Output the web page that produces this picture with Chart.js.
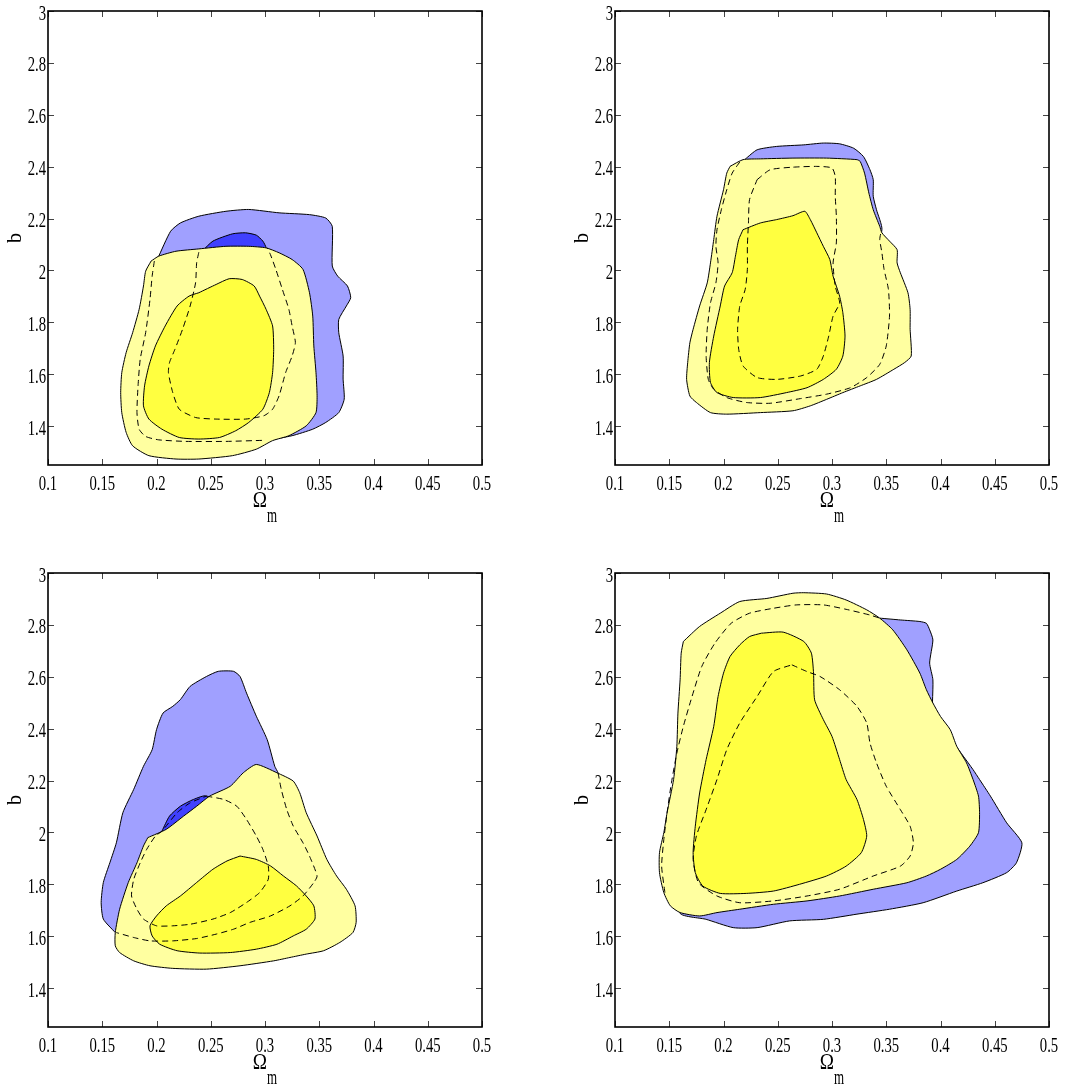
<!DOCTYPE html>
<html lang="en">
<head>
<meta charset="UTF-8">
<title>b vs Omega_m</title>
<script src="https://cdn.jsdelivr.net/npm/chart.js"></script>
<style>
  html, body { margin: 0; padding: 0; background: #fff; overflow: hidden; }
  body { width: 1068px; height: 1086px; position: relative; }
  canvas { position: absolute; }
</style>
</head>
<body>
<canvas id="tl" width="534" height="540" style="left:0px;top:0px"></canvas>
<canvas id="tr" width="534" height="540" style="left:567px;top:0px"></canvas>
<canvas id="bl" width="534" height="540" style="left:0px;top:562px"></canvas>
<canvas id="br" width="534" height="540" style="left:567px;top:562px"></canvas>
<script>
// axes
const xTicks = [0.1, 0.15, 0.2, 0.25, 0.3, 0.35, 0.4, 0.45, 0.5];
const xTickLabels = ['0.1', '0.15', '0.2', '0.25', '0.3', '0.35', '0.4', '0.45', '0.5'];
const yTicks = [1.4, 1.6, 1.8, 2, 2.2, 2.4, 2.6, 2.8, 3];
const yTickLabels = ['1.4', '1.6', '1.8', '2', '2.2', '2.4', '2.6', '2.8', '3'];

// top left panel: contours as [Omega_m, b]
const tlBlueOuter = [[0.201,2.045],[0.213,2.151],[0.222,2.183],[0.239,2.209],[0.264,2.228],[0.285,2.235],[0.313,2.222],[0.341,2.215],[0.356,2.202],[0.362,2.170],[0.362,2.017],[0.367,1.978],[0.376,1.940],[0.379,1.895],[0.375,1.863],[0.368,1.811],[0.368,1.760],[0.372,1.670],[0.372,1.581],[0.373,1.504],[0.368,1.452],[0.356,1.414],[0.344,1.388],[0.325,1.363],[0.301,1.344],[0.295,1.341],[0.239,1.388],[0.196,1.504],[0.193,1.952]];
const tlBlueInner = [[0.242,2.074],[0.252,2.113],[0.270,2.141],[0.282,2.145],[0.292,2.136],[0.298,2.113],[0.301,2.087],[0.304,1.888],[0.276,1.696],[0.239,1.696],[0.233,1.952]];
const tlYellowOuter = [[0.195,2.036],[0.190,1.997],[0.188,1.940],[0.184,1.850],[0.178,1.760],[0.172,1.683],[0.168,1.606],[0.167,1.529],[0.168,1.452],[0.172,1.376],[0.178,1.324],[0.193,1.286],[0.218,1.273],[0.239,1.273],[0.270,1.286],[0.292,1.311],[0.307,1.344],[0.322,1.363],[0.338,1.401],[0.347,1.452],[0.348,1.517],[0.347,1.606],[0.345,1.709],[0.344,1.824],[0.341,1.914],[0.335,2.004],[0.325,2.042],[0.313,2.068],[0.301,2.087],[0.285,2.093],[0.264,2.093],[0.239,2.083],[0.218,2.074],[0.202,2.055]];
const tlYellowInner = [[0.239,1.914],[0.230,1.901],[0.219,1.863],[0.208,1.786],[0.199,1.709],[0.193,1.632],[0.189,1.555],[0.188,1.478],[0.193,1.427],[0.205,1.388],[0.221,1.356],[0.239,1.350],[0.258,1.356],[0.273,1.382],[0.285,1.414],[0.298,1.465],[0.304,1.529],[0.307,1.606],[0.308,1.696],[0.307,1.786],[0.301,1.850],[0.295,1.901],[0.290,1.940],[0.279,1.965],[0.267,1.968],[0.255,1.946]];
const tlDash68 = [[0.239,2.070],[0.237,2.029],[0.236,1.952],[0.231,1.863],[0.224,1.773],[0.217,1.696],[0.212,1.645],[0.211,1.606],[0.215,1.529],[0.221,1.465],[0.236,1.433],[0.255,1.427],[0.282,1.427],[0.299,1.440],[0.307,1.465],[0.313,1.517],[0.319,1.606],[0.325,1.670],[0.328,1.722],[0.325,1.786],[0.322,1.850],[0.316,1.927],[0.310,2.004],[0.305,2.061],[0.302,2.087]];
const tlDash95 = [[0.198,2.036],[0.196,1.978],[0.194,1.888],[0.190,1.760],[0.185,1.658],[0.183,1.555],[0.182,1.452],[0.184,1.388],[0.190,1.360],[0.202,1.347],[0.227,1.341],[0.264,1.341],[0.298,1.345]];

// top right panel
const trBlueOuter = [[0.220,2.429],[0.231,2.465],[0.249,2.478],[0.274,2.484],[0.292,2.491],[0.307,2.488],[0.320,2.471],[0.329,2.439],[0.335,2.388],[0.338,2.350],[0.338,2.286],[0.341,2.234],[0.346,2.157],[0.326,1.773],[0.234,1.645],[0.203,2.029]];
const trYellowOuter = [[0.206,2.401],[0.218,2.427],[0.234,2.430],[0.264,2.433],[0.295,2.433],[0.323,2.427],[0.326,2.420],[0.330,2.375],[0.334,2.298],[0.338,2.234],[0.344,2.170],[0.346,2.145],[0.353,2.113],[0.360,2.080],[0.360,2.029],[0.363,1.991],[0.370,1.914],[0.372,1.850],[0.372,1.773],[0.373,1.670],[0.367,1.645],[0.357,1.619],[0.341,1.580],[0.326,1.555],[0.310,1.529],[0.295,1.503],[0.280,1.478],[0.264,1.459],[0.234,1.452],[0.203,1.446],[0.188,1.452],[0.175,1.491],[0.169,1.516],[0.166,1.580],[0.167,1.645],[0.169,1.721],[0.172,1.773],[0.178,1.863],[0.185,1.952],[0.188,2.029],[0.191,2.119],[0.194,2.209],[0.200,2.311],[0.203,2.375]];
const trYellowInner = [[0.218,2.157],[0.234,2.183],[0.249,2.196],[0.264,2.211],[0.275,2.228],[0.280,2.196],[0.286,2.145],[0.292,2.093],[0.298,2.042],[0.301,1.978],[0.307,1.901],[0.310,1.837],[0.312,1.747],[0.310,1.670],[0.304,1.619],[0.292,1.580],[0.277,1.548],[0.258,1.529],[0.234,1.510],[0.209,1.510],[0.194,1.529],[0.188,1.568],[0.187,1.645],[0.191,1.747],[0.197,1.863],[0.201,1.940],[0.208,1.991],[0.211,2.055],[0.214,2.119]];
const trDash68 = [[0.231,2.350],[0.243,2.388],[0.264,2.398],[0.286,2.401],[0.300,2.395],[0.303,2.362],[0.303,2.286],[0.304,2.209],[0.304,2.106],[0.301,2.029],[0.303,1.939],[0.307,1.875],[0.301,1.824],[0.297,1.747],[0.292,1.670],[0.286,1.619],[0.271,1.593],[0.249,1.580],[0.231,1.587],[0.218,1.632],[0.214,1.696],[0.213,1.773],[0.215,1.863],[0.220,1.927],[0.222,2.004],[0.222,2.093],[0.223,2.183],[0.224,2.273]];
const trDash95 = [[0.215,2.418],[0.208,2.375],[0.203,2.311],[0.198,2.234],[0.194,2.157],[0.193,2.093],[0.195,2.029],[0.193,1.952],[0.188,1.875],[0.185,1.773],[0.184,1.670],[0.186,1.580],[0.191,1.542],[0.203,1.510],[0.221,1.491],[0.243,1.488],[0.271,1.506],[0.295,1.523],[0.317,1.548],[0.332,1.587],[0.344,1.638],[0.350,1.709],[0.353,1.824],[0.352,1.927],[0.348,2.004],[0.346,2.068],[0.344,2.119],[0.345,2.145]];

// bottom left panel
const blBlueOuter = [[0.162,1.614],[0.151,1.666],[0.149,1.730],[0.151,1.807],[0.157,1.883],[0.163,1.960],[0.169,2.076],[0.179,2.166],[0.188,2.255],[0.196,2.319],[0.200,2.396],[0.206,2.460],[0.215,2.486],[0.222,2.512],[0.231,2.563],[0.246,2.601],[0.257,2.621],[0.271,2.621],[0.277,2.601],[0.283,2.537],[0.292,2.448],[0.302,2.358],[0.309,2.255],[0.312,2.230],[0.323,2.063],[0.262,1.807],[0.185,1.678]];
const blBlueInner = [[0.205,2.005],[0.212,2.063],[0.222,2.101],[0.234,2.127],[0.246,2.140],[0.262,2.037],[0.237,1.871],[0.209,1.935]];
const blYellowOuter = [[0.192,1.980],[0.209,2.012],[0.225,2.063],[0.237,2.101],[0.249,2.140],[0.268,2.178],[0.280,2.230],[0.292,2.262],[0.311,2.230],[0.326,2.198],[0.332,2.153],[0.338,2.076],[0.348,1.986],[0.357,1.896],[0.366,1.832],[0.375,1.781],[0.383,1.717],[0.384,1.653],[0.381,1.614],[0.369,1.576],[0.354,1.544],[0.338,1.531],[0.323,1.518],[0.308,1.505],[0.277,1.486],[0.246,1.473],[0.215,1.476],[0.194,1.486],[0.179,1.505],[0.166,1.537],[0.162,1.563],[0.162,1.614],[0.166,1.704],[0.174,1.807],[0.182,1.883],[0.188,1.948]];
const blYellowInner = [[0.277,1.909],[0.292,1.896],[0.305,1.871],[0.317,1.832],[0.329,1.794],[0.338,1.755],[0.345,1.717],[0.346,1.666],[0.338,1.627],[0.326,1.601],[0.311,1.569],[0.292,1.550],[0.268,1.537],[0.240,1.535],[0.219,1.544],[0.203,1.569],[0.196,1.601],[0.194,1.640],[0.200,1.678],[0.209,1.717],[0.222,1.755],[0.237,1.807],[0.252,1.858],[0.265,1.890]];
const blDash68 = [[0.246,2.140],[0.262,2.127],[0.274,2.101],[0.283,2.050],[0.292,1.986],[0.298,1.935],[0.303,1.871],[0.303,1.819],[0.295,1.768],[0.283,1.730],[0.268,1.691],[0.252,1.666],[0.231,1.646],[0.215,1.640],[0.200,1.640],[0.188,1.666],[0.182,1.704],[0.177,1.755],[0.179,1.819],[0.185,1.883],[0.191,1.935],[0.199,1.986],[0.205,2.005],[0.219,2.076],[0.231,2.114]];
const blDash95 = [[0.312,2.230],[0.315,2.166],[0.320,2.089],[0.326,2.025],[0.335,1.960],[0.341,1.909],[0.348,1.832],[0.345,1.807],[0.335,1.755],[0.323,1.717],[0.305,1.678],[0.286,1.653],[0.271,1.627],[0.255,1.608],[0.237,1.591],[0.215,1.582],[0.194,1.582],[0.179,1.595],[0.163,1.614]];

// bottom right panel
const brBlueOuter = [[0.344,2.826],[0.363,2.819],[0.381,2.813],[0.387,2.806],[0.390,2.781],[0.393,2.742],[0.390,2.653],[0.393,2.588],[0.393,2.409],[0.403,2.383],[0.412,2.345],[0.421,2.294],[0.430,2.242],[0.436,2.204],[0.446,2.140],[0.461,2.037],[0.475,1.960],[0.470,1.883],[0.461,1.845],[0.439,1.806],[0.415,1.774],[0.384,1.729],[0.353,1.704],[0.323,1.685],[0.292,1.665],[0.261,1.659],[0.231,1.633],[0.209,1.633],[0.184,1.665],[0.160,1.691],[0.215,2.076],[0.307,2.460]];
const brYellowOuter = [[0.163,2.736],[0.178,2.794],[0.197,2.845],[0.215,2.890],[0.240,2.902],[0.264,2.922],[0.274,2.924],[0.295,2.919],[0.313,2.896],[0.332,2.858],[0.344,2.826],[0.356,2.781],[0.369,2.704],[0.381,2.614],[0.387,2.550],[0.393,2.499],[0.400,2.447],[0.409,2.396],[0.415,2.332],[0.424,2.268],[0.430,2.204],[0.435,2.140],[0.436,2.076],[0.435,1.999],[0.427,1.947],[0.415,1.896],[0.400,1.858],[0.387,1.832],[0.369,1.806],[0.338,1.781],[0.307,1.755],[0.277,1.736],[0.246,1.723],[0.215,1.704],[0.194,1.691],[0.178,1.678],[0.160,1.691],[0.151,1.717],[0.145,1.768],[0.141,1.845],[0.141,1.922],[0.145,1.999],[0.148,2.076],[0.154,2.204],[0.157,2.332],[0.158,2.460],[0.160,2.588],[0.161,2.691]];
const brYellowInner = [[0.235,2.768],[0.255,2.772],[0.274,2.736],[0.281,2.691],[0.283,2.614],[0.284,2.511],[0.292,2.435],[0.300,2.370],[0.307,2.281],[0.313,2.204],[0.323,2.127],[0.329,2.050],[0.332,1.986],[0.327,1.922],[0.313,1.870],[0.295,1.832],[0.270,1.800],[0.246,1.774],[0.221,1.765],[0.197,1.765],[0.181,1.793],[0.174,1.845],[0.172,1.922],[0.174,2.024],[0.178,2.152],[0.184,2.281],[0.191,2.409],[0.195,2.524],[0.200,2.614],[0.206,2.678],[0.215,2.723],[0.224,2.755]];
const brDash68 = [[0.263,2.646],[0.277,2.620],[0.289,2.601],[0.307,2.550],[0.323,2.486],[0.332,2.422],[0.335,2.345],[0.341,2.268],[0.350,2.178],[0.363,2.088],[0.372,2.024],[0.375,1.960],[0.372,1.909],[0.363,1.870],[0.338,1.832],[0.307,1.781],[0.277,1.755],[0.246,1.736],[0.215,1.729],[0.194,1.755],[0.177,1.806],[0.172,1.896],[0.175,1.986],[0.184,2.088],[0.194,2.204],[0.203,2.319],[0.215,2.422],[0.231,2.524],[0.246,2.620]];
const brDash95 = [[0.146,1.768],[0.143,1.870],[0.145,1.973],[0.148,2.076],[0.152,2.191],[0.157,2.306],[0.163,2.409],[0.171,2.524],[0.180,2.640],[0.192,2.729],[0.207,2.806],[0.224,2.845],[0.246,2.864],[0.267,2.877],[0.292,2.877],[0.313,2.860],[0.335,2.838],[0.344,2.826]];

const lightBlue = '#a0a0ff';
const darkBlue = '#4040ff';
const lightYellow = '#ffffa0';
const yellow = '#ffff40';

function toXY(pts) {
    return pts.map(p => ({ x: p[0], y: p[1] }));
}

// filled closed contour
function region(pts, color, order) {
    return {
        data: toXY(pts.concat([pts[0]])),
        showLine: true,
        fill: 'shape',
        backgroundColor: color,
        borderColor: '#000',
        borderWidth: 1,
        pointRadius: 0,
        tension: 0.2,
        order: order
    };
}

// dashed contour line, no fill
function dashed(pts, closed, order) {
    return {
        data: toXY(closed ? pts.concat([pts[0]]) : pts),
        showLine: true,
        fill: false,
        borderColor: '#000',
        borderWidth: 1,
        borderDash: [6, 4],
        pointRadius: 0,
        tension: 0.2,
        order: order
    };
}

// matlab style box, inward ticks and labels
const frame = {
    id: 'frame',
    afterDraw(chart) {
        const ctx = chart.ctx;
        const { left, top, right, bottom } = chart.chartArea;
        const sx = chart.scales.x, sy = chart.scales.y;
        ctx.save();
        ctx.strokeStyle = '#444';
        ctx.lineWidth = 1;
        ctx.beginPath();
        xTicks.forEach(v => {
            const px = Math.round(sx.getPixelForValue(v)) + 0.5;
            ctx.moveTo(px, bottom); ctx.lineTo(px, bottom - 6);
            ctx.moveTo(px, top); ctx.lineTo(px, top + 6);
        });
        yTicks.forEach(v => {
            const py = Math.round(sy.getPixelForValue(v)) + 0.5;
            ctx.moveTo(left, py); ctx.lineTo(left + 6, py);
            ctx.moveTo(right, py); ctx.lineTo(right - 6, py);
        });
        ctx.stroke();
        ctx.strokeStyle = '#000';
        ctx.lineWidth = 1.6;
        ctx.strokeRect(left, top, right - left, bottom - top);

        ctx.fillStyle = '#000';
        ctx.font = '21px "Liberation Serif"';
        ctx.textBaseline = 'alphabetic';
        ctx.textAlign = 'center';
        xTicks.forEach((v, i) => {
            ctx.save();
            ctx.translate(sx.getPixelForValue(v), bottom + 25);
            ctx.scale(0.7, 1);
            ctx.fillText(xTickLabels[i], 0, 0);
            ctx.restore();
        });
        ctx.textAlign = 'right';
        yTicks.forEach((v, i) => {
            ctx.save();
            ctx.translate(left - 2, sy.getPixelForValue(v) + 8.5);
            ctx.scale(0.7, 1);
            ctx.fillText(yTickLabels[i], 0, 0);
            ctx.restore();
        });

        // axis titles
        const cx = (left + right) / 2;
        ctx.textAlign = 'center';
        ctx.save();
        ctx.font = '24px "Liberation Serif"';
        ctx.translate(cx - 5, bottom + 42);
        ctx.scale(0.8, 1);
        ctx.fillText('Ω', 0, 0);
        ctx.restore();
        ctx.save();
        ctx.font = '20px "Liberation Serif"';
        ctx.translate(cx + 7, bottom + 57);
        ctx.scale(0.65, 1);
        ctx.fillText('m', 0, 0);
        ctx.restore();
        ctx.save();
        ctx.font = '20px "Liberation Serif"';
        ctx.textBaseline = 'middle';
        ctx.translate(16, (top + bottom) / 2);
        ctx.rotate(-Math.PI / 2);
        ctx.fillText('b', 0, 0);
        ctx.restore();
        ctx.restore();
    }
};

function panel(id, datasets) {
    new Chart(document.getElementById(id), {
        type: 'scatter',
        data: { datasets: datasets },
        options: {
            responsive: false,
            animation: false,
            events: [],
            layout: { padding: { left: 48, top: 11, right: 52, bottom: 75 } },
            plugins: { legend: { display: false }, tooltip: { enabled: false } },
            scales: {
                x: { type: 'linear', min: 0.1, max: 0.5, display: false },
                y: { type: 'linear', min: 1.25, max: 3, display: false }
            }
        },
        plugins: [frame]
    });
}

panel('tl', [
    region(tlBlueOuter, lightBlue, 6),
    region(tlBlueInner, darkBlue, 5),
    region(tlYellowOuter, lightYellow, 4),
    region(tlYellowInner, yellow, 3),
    dashed(tlDash95, false, 2),
    dashed(tlDash68, false, 1)
]);
panel('tr', [
    region(trBlueOuter, lightBlue, 6),
    region(trYellowOuter, lightYellow, 4),
    region(trYellowInner, yellow, 3),
    dashed(trDash95, false, 2),
    dashed(trDash68, true, 1)
]);
panel('bl', [
    region(blBlueOuter, lightBlue, 6),
    region(blBlueInner, darkBlue, 5),
    region(blYellowOuter, lightYellow, 4),
    region(blYellowInner, yellow, 3),
    dashed(blDash95, false, 2),
    dashed(blDash68, true, 1)
]);
panel('br', [
    region(brBlueOuter, lightBlue, 6),
    region(brYellowOuter, lightYellow, 4),
    region(brYellowInner, yellow, 3),
    dashed(brDash95, false, 2),
    dashed(brDash68, true, 1)
]);
</script>
</body>
</html>
